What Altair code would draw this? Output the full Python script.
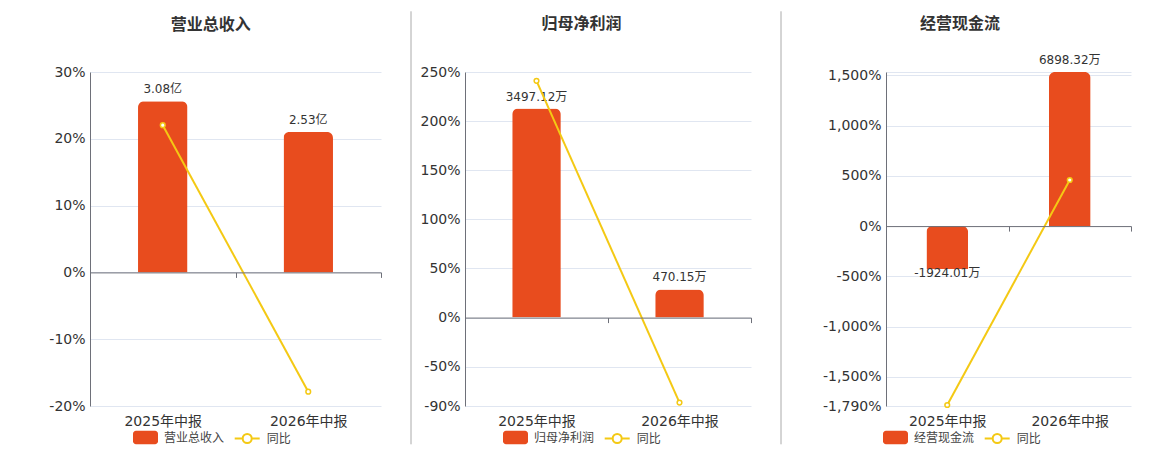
import altair as alt
import pandas as pd

# ---------------- data ----------------
periods = ["2025年中报", "2026年中报"]
panel_titles = ["营业总收入", "归母净利润", "经营现金流"]
bar_values = [[3.08, 2.53], [3497.12, 470.15], [-1924.01, 6898.32]]
bar_labels = [["3.08亿", "2.53亿"], ["3497.12万", "470.15万"], ["-1924.01万", "6898.32万"]]
yoy_values = [[22.04, -17.86], [241.0, -86.56], [-1780.0, 458.5]]
yoy_name = "同比"
yoy_ticks = [[-20, -10, 0, 10, 20, 30],
             [-90, -50, 0, 50, 100, 150, 200, 250],
             [-1790, -1500, -1000, -500, 0, 500, 1000, 1500, 1533]]
yoy_domains = [[-20, 30], [-90, 250], [-1790, 1533]]
bar_axis_max = [3.608, 4110, 6898.32]

# ---------------- style ----------------
RED = "#E84C1E"
YELLOW = "#F4C914"
AXIS = "#6E7079"
GRID = "#E0E6F1"
TEXT = "#333333"
FONT = "DejaVu Sans, Noto Sans CJK SC, sans-serif"

H = 334
widths = [291, 286, 245]
sep_x = [None, -54, -105]
legend_x = [43, 38, -3]
legend2_dx = 100.7
title_dx = [-24.7, -26.4, -48.5]

RECT_PATH = ("M-0.76,-0.536L0.76,-0.536A0.24,0.24,0,0,1,1,-0.296L1,0.296"
             "A0.24,0.24,0,0,1,0.76,0.536L-0.76,0.536A0.24,0.24,0,0,1,-1,0.296"
             "L-1,-0.296A0.24,0.24,0,0,1,-0.76,-0.536Z")
LINE_PATH = ("M-1,0L-0.36,0M0.36,0L1,0M0.36,0A0.36,0.36,0,1,1,-0.36,0"
             "A0.36,0.36,0,1,1,0.36,0")


def label_expr(i):
    base = "(datum.value < 0 ? '-' : '') + format(abs(datum.value), ',') + '%'"
    if i == 2:
        return "datum.value > 1520 ? '' : " + base
    return base


def panel(i):
    df = pd.DataFrame({
        "period": periods,
        "bar": bar_values[i],
        "label": bar_labels[i],
        "yoy": yoy_values[i],
    })
    lo, hi = yoy_domains[i]
    f0 = -lo / (hi - lo)
    bmax = bar_axis_max[i]
    bmin = -bmax * f0 / (1 - f0)
    zero_off = H * f0

    x_enc = alt.X(
        "period:N",
        scale=alt.Scale(type="band", paddingInner=0, paddingOuter=0, domain=periods),
        axis=alt.Axis(title=None, orient="bottom", offset=-zero_off, domain=True,
                      domainColor=AXIS, ticks=True, tickColor=AXIS, tickSize=5,
                      tickBand="extent", labelPadding=zero_off + 3.2, labelFontSize=14,
                      labelColor=TEXT, labelAngle=0, grid=False, zindex=1),
    )
    fill_enc = alt.Fill(
        "series:N",
        scale=alt.Scale(domain=[panel_titles[i]], range=[RED]),
        legend=alt.Legend(title=None, orient="none", legendX=legend_x[i], legendY=353,
                          direction="horizontal", symbolType=RECT_PATH, symbolSize=625,
                          symbolStrokeWidth=0, labelFontSize=12, labelColor="#444444",
                          labelOffset=6),
    )
    stroke_enc = alt.Stroke(
        "series:N",
        scale=alt.Scale(domain=[yoy_name], range=[YELLOW]),
        legend=alt.Legend(title=None, orient="none", legendX=legend_x[i] + legend2_dx,
                          legendY=353, direction="horizontal", symbolType=LINE_PATH,
                          symbolSize=625, symbolStrokeWidth=2, symbolFillColor="#ffffff",
                          labelFontSize=12, labelColor="#444444", labelOffset=6),
    )
    base = alt.Chart(df)
    y_bar = alt.Y("bar:Q", scale=alt.Scale(domain=[bmin, bmax], nice=False, zero=False), axis=None)

    bars = base.transform_calculate(series="'%s'" % panel_titles[i]).mark_bar(
        width=alt.RelativeBandSize(0.34), cornerRadiusEnd=6
    ).encode(x=x_enc, y=y_bar, fill=fill_enc)
    pos_lbl = base.transform_filter("datum.bar >= 0").mark_text(
        baseline="bottom", dy=-5, fontSize=12, color=TEXT
    ).encode(x=x_enc, y=y_bar, text="label:N")
    neg_lbl = base.transform_filter("datum.bar < 0").mark_text(
        baseline="top", dy=-1, fontSize=12, color=TEXT
    ).encode(x=x_enc, y=y_bar, text="label:N")
    bar_group = alt.layer(bars, pos_lbl, neg_lbl)

    y_yoy = alt.Y(
        "yoy:Q",
        scale=alt.Scale(domain=yoy_domains[i], nice=False, zero=False),
        axis=alt.Axis(title=None, orient="left", values=yoy_ticks[i], labelExpr=label_expr(i),
                      grid=True, gridColor=GRID, gridWidth=1, domain=True, domainColor=AXIS,
                      ticks=False, labelFontSize=14, labelColor=TEXT, labelPadding=5),
    )
    line = base.transform_calculate(series="'%s'" % yoy_name).mark_line(strokeWidth=2).encode(
        x=x_enc, y=y_yoy, stroke=stroke_enc)
    pts = base.mark_point(shape="circle", filled=True, fill="#ffffff", stroke=YELLOW,
                          strokeWidth=1.5, size=22, opacity=1).encode(x=x_enc, y=y_yoy)
    line_group = alt.layer(line, pts)

    layers = [bar_group, line_group]
    one = pd.DataFrame({"k": [0]})
    if sep_x[i] is not None:
        layers.append(alt.Chart(one).mark_rule(color="#AAAAAA", strokeWidth=1).encode(
            x=alt.value(sep_x[i]), y=alt.value(-60.7), y2=alt.value(372.3)))
    else:
        layers.append(alt.Chart(one).mark_rule(opacity=0, strokeWidth=1).encode(
            x=alt.value(-81.3), y=alt.value(-60.7), y2=alt.value(0)))

    return alt.layer(*layers).resolve_scale(y="independent").properties(
        width=widths[i], height=H,
        title=alt.TitleParams(text=panel_titles[i], dx=title_dx[i], dy=35.6, anchor="middle",
                              frame="group", fontSize=16, fontWeight="bold", color=TEXT,
                              font=FONT, offset=14),
    )


chart = alt.hconcat(panel(0), panel(1), panel(2), spacing=28).resolve_scale(
    x="independent", y="independent", fill="independent", stroke="independent"
).properties(
    padding={"left": 0, "top": 2, "right": 5, "bottom": 5}
).configure(font=FONT).configure_view(strokeWidth=0).configure_axis(
    labelFont=FONT).configure_legend(labelFont=FONT)

chart.save("out.html", embed_options={"renderer": "svg", "actions": False})
